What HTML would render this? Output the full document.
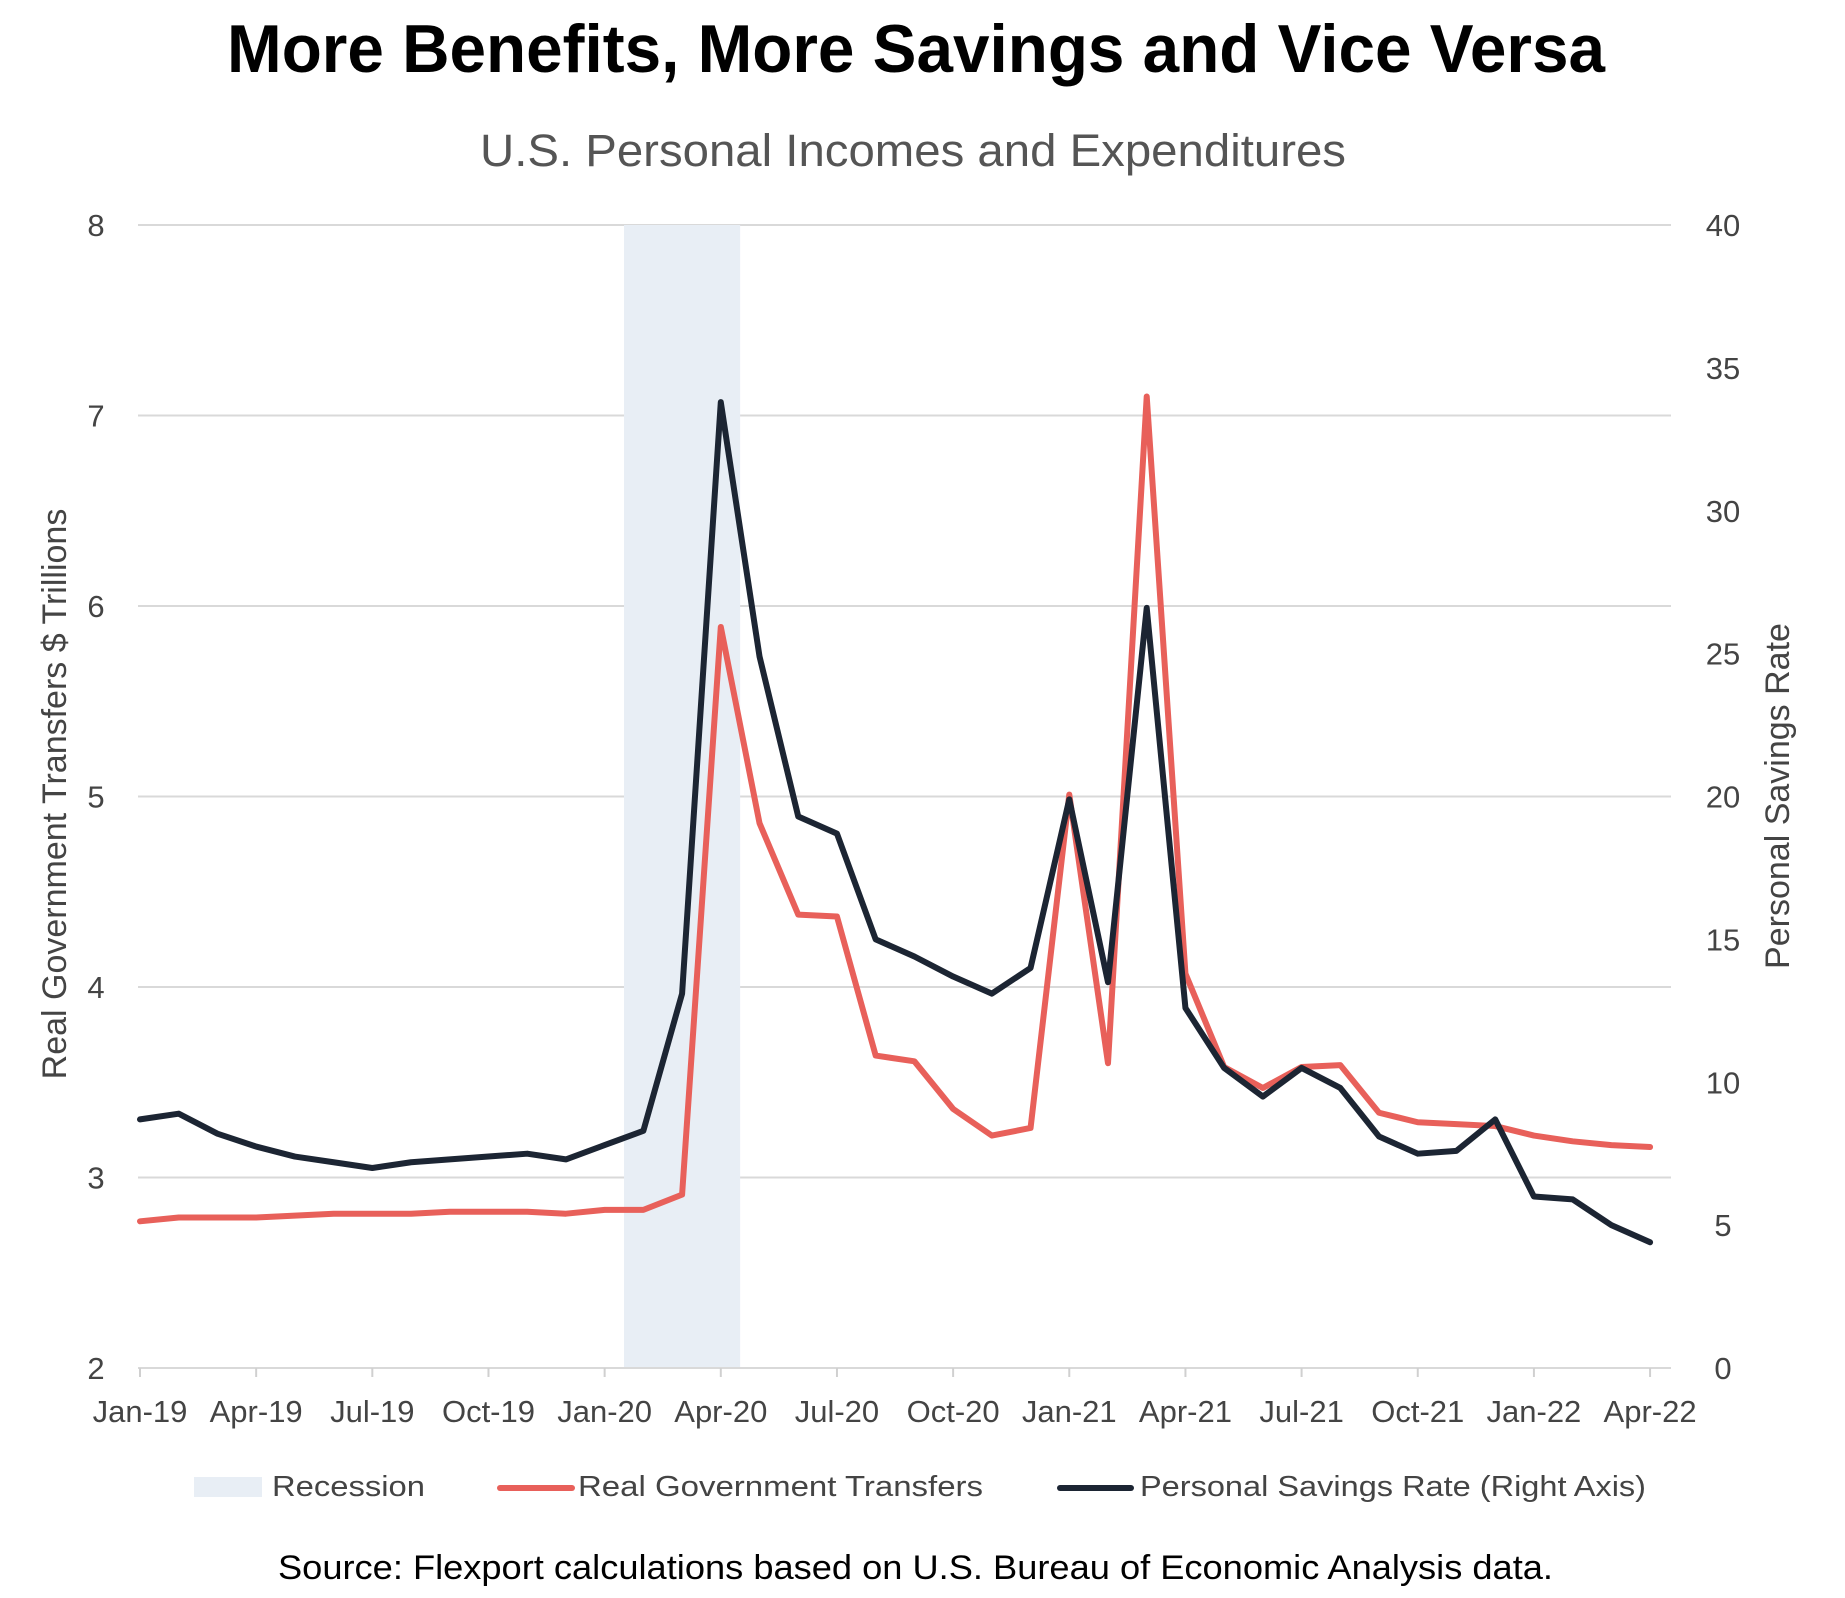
<!DOCTYPE html>
<html><head><meta charset="utf-8"><style>
html,body{margin:0;padding:0;background:#fff;}
svg{display:block;font-family:"Liberation Sans",sans-serif;}
</style></head><body>
<svg id="chart" width="1845" height="1598" viewBox="0 0 1845 1598" xmlns="http://www.w3.org/2000/svg">
<text x="916" y="72" text-anchor="middle" font-size="68" font-weight="bold" fill="#000" textLength="1378" lengthAdjust="spacingAndGlyphs">More Benefits, More Savings and Vice Versa</text>
<text x="913" y="166" text-anchor="middle" font-size="45" fill="#555" textLength="866" lengthAdjust="spacingAndGlyphs">U.S. Personal Incomes and Expenditures</text>
<g id="grid"></g>
<g id="recess"></g>
<g id="axes"></g>
<g id="series"></g>
<text transform="translate(66,794) rotate(-90)" text-anchor="middle" font-size="34" fill="#444">Real Government Transfers $ Trillions</text>
<text transform="translate(1789,796) rotate(-90)" text-anchor="middle" font-size="34" fill="#444">Personal Savings Rate</text>
<g>
<rect x="194" y="1477" width="68" height="20" fill="#e8eef5"/>
<text x="272" y="1496" font-size="29" fill="#444" textLength="153" lengthAdjust="spacingAndGlyphs">Recession</text>
<line x1="500" y1="1488" x2="572" y2="1488" stroke="#e8605a" stroke-width="6" stroke-linecap="round"/>
<text x="578" y="1496" font-size="29" fill="#444" textLength="405" lengthAdjust="spacingAndGlyphs">Real Government Transfers</text>
<line x1="1060" y1="1488" x2="1131" y2="1488" stroke="#1c2533" stroke-width="6" stroke-linecap="round"/>
<text x="1140" y="1496" font-size="29" fill="#444" textLength="506" lengthAdjust="spacingAndGlyphs">Personal Savings Rate (Right Axis)</text>
</g>
<text x="278" y="1579" font-size="34" fill="#000" textLength="1275" lengthAdjust="spacingAndGlyphs">Source: Flexport calculations based on U.S. Bureau of Economic Analysis data.</text>
</svg>
<script>
const xLabels = ["Jan-19","Apr-19","Jul-19","Oct-19","Jan-20","Apr-20","Jul-20","Oct-20","Jan-21","Apr-21","Jul-21","Oct-21","Jan-22","Apr-22"];
const leftTicks = [2,3,4,5,6,7,8];
const rightTicks = [0,5,10,15,20,25,30,35,40];
const transfers = [2.77,2.79,2.79,2.79,2.80,2.81,2.81,2.81,2.82,2.82,2.82,2.81,2.83,2.83,2.91,5.89,4.86,4.38,4.37,3.64,3.61,3.36,3.22,3.26,5.01,3.60,7.10,4.07,3.58,3.47,3.58,3.59,3.34,3.29,3.28,3.27,3.22,3.19,3.17,3.16];
const savings = [8.7,8.9,8.2,7.75,7.4,7.2,7.0,7.2,7.3,7.4,7.5,7.3,7.8,8.3,13.1,33.8,24.9,19.3,18.7,15.0,14.4,13.7,13.1,14.0,19.9,13.5,26.6,12.6,10.5,9.5,10.5,9.8,8.1,7.5,7.6,8.7,6.0,5.9,5.0,4.4];
const recession = [12.5,15.5];

const NS="http://www.w3.org/2000/svg";
const X0=140, DX=38.72, YTOP=225, YBOT=1368, PLOTL=138, PLOTR=1671;
const xs=m=>X0+m*DX;
const yL=v=>YBOT-(v-2)/6*(YBOT-YTOP);
const yR=v=>YBOT-v/40*(YBOT-YTOP);
function mk(tag,attrs,parent){const e=document.createElementNS(NS,tag);for(const k in attrs)e.setAttribute(k,attrs[k]);parent.appendChild(e);return e;}
const grid=document.getElementById('grid'),axes=document.getElementById('axes'),ser=document.getElementById('series'),rec=document.getElementById('recess');
leftTicks.forEach(v=>{
  if(v>2){const l=mk('line',{x1:PLOTL,x2:PLOTR,y1:yL(v),y2:yL(v),stroke:'#d9d9d9','stroke-width':2},grid);
  
  }
  const t=mk('text',{x:96,y:yL(v)+11,'text-anchor':'middle','font-size':31,fill:'#444'},axes);t.textContent=v;
  
  
});
rightTicks.forEach(v=>{
  const t=mk('text',{x:1723,y:yR(v)+11,'text-anchor':'middle','font-size':31,fill:'#444'},axes);t.textContent=v;
  
  
});
const r=mk('rect',{x:xs(recession[0]),y:YTOP,width:xs(recession[1])-xs(recession[0]),height:YBOT-YTOP,fill:'#e8eef5'},rec);


const base=mk('line',{x1:PLOTL,x2:PLOTR,y1:YBOT,y2:YBOT,stroke:'#d9d9d9','stroke-width':2},axes);


xLabels.forEach((lab,i)=>{
  const x=xs(i*3);
  const tk=mk('line',{x1:x,x2:x,y1:YBOT,y2:YBOT+9,stroke:'#d0d0d0','stroke-width':2},axes);
  
  
  const t=mk('text',{x:x,y:1422,'text-anchor':'middle','font-size':31,fill:'#444'},axes);t.textContent=lab;
  
  
});
const pT=mk('polyline',{points:transfers.map((v,i)=>xs(i)+','+yL(v)).join(' '),fill:'none',stroke:'#e8605a','stroke-width':6,'stroke-linejoin':'round','stroke-linecap':'round'},ser);


const pS=mk('polyline',{points:savings.map((v,i)=>xs(i)+','+yR(v)).join(' '),fill:'none',stroke:'#1c2533','stroke-width':6,'stroke-linejoin':'round','stroke-linecap':'round'},ser);


</script>
</body></html>
